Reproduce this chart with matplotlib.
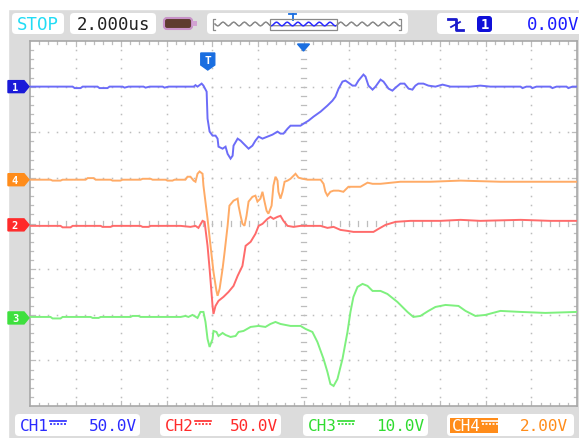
import numpy as np
import matplotlib
matplotlib.use("Agg")
import matplotlib.pyplot as plt
from matplotlib.patches import Rectangle, FancyBboxPatch, Polygon
from matplotlib.lines import Line2D
from matplotlib.transforms import Affine2D

# scope settings
time_per_div = 2.0          # us/div, t=0 at screen centre
ch_scale = {"CH1": 50.0, "CH2": 50.0, "CH3": 10.0, "CH4": 2.0}   # V/div
ch_offset = {"CH1": 7.0, "CH2": 3.97, "CH3": 1.93, "CH4": 4.96}  # ground marker, div
ch_scale_text = {"CH1": "50.0V", "CH2": "50.0V", "CH3": "10.0V", "CH4": "2.00V"}
timebase_text = "2.000us"
trig_level_text = "0.00V"
trig_time_us = -4.2

# CH1 (us, V)
ch1_t = [-11.97, -10.13, -10.04, -9.78, -9.69, -9.04, -8.95, -8.60, -8.51, -7.94,
         -7.85, -7.68, -7.02, -6.93, -6.75, -6.18, -6.10, -5.92, -4.82, -4.74,
         -4.65, -4.47, -4.39, -4.25, -4.21, -4.12, -3.99, -3.86, -3.77, -3.73,
         -3.55, -3.42, -3.33, -3.20, -3.11, -3.07, -2.89, -2.76, -2.63, -2.41,
         -2.24, -2.11, -1.97, -1.80, -1.58, -1.36, -1.14, -1.01, -0.88, -0.70,
         -0.57, -0.13, 0.0, 0.22, 0.44, 0.75, 1.05, 1.27, 1.40, 1.54,
         1.71, 1.84, 1.97, 2.15, 2.28, 2.41, 2.63, 2.72, 2.85, 3.03,
         3.16, 3.38, 3.51, 3.73, 3.90, 4.04, 4.25, 4.43, 4.61, 4.78,
         4.91, 5.04, 5.26, 5.48, 5.79, 6.10, 6.45, 7.32, 7.76, 8.20,
         9.52, 9.61, 9.78, 9.96, 10.04, 10.22, 10.83, 10.92, 11.10, 11.54,
         11.62, 11.80, 12.0]
ch1_v = [0, 0, -1.6, -1.6, 0, 0, -1.6, -1.6, 0, 0,
         -1.1, 0, 0, -1.1, 0, 0, -1.1, 0, 0, 1.6,
         0, 3.3, 1.1, -5.5, -35.1, -49.3, -53.7, -53.7, -57.0, -65.8,
         -68.0, -65.8, -73.7, -78.9, -75.7, -64.7, -57.0, -59.2, -62.5, -68.0,
         -64.7, -59.2, -54.8, -57.0, -54.8, -52.6, -49.3, -51.5, -51.5, -46.1,
         -42.8, -42.8, -40.6, -37.3, -32.9, -27.4, -20.8, -15.4, -11.0, -2.2,
         5.5, 6.6, 4.4, 1.1, 1.1, 6.6, 13.2, 11.0, 1.1, -3.3,
         0, 7.7, 5.5, -2.2, -4.4, -1.1, 3.3, 3.3, -2.2, -3.3,
         1.1, 3.3, 3.3, 1.1, 0, 2.2, 0, 0, 1.1, 0,
         0, -1.6, 0, 0, -1.6, 0, 0, -1.6, 0, 0,
         -1.6, 0, 0]

# CH2 (us, V)
ch2_t = [-11.97, -10.66, -10.57, -10.22, -10.13, -8.90, -8.82, -8.46, -8.38, -7.15,
         -7.06, -6.80, -6.71, -5.39, -4.96, -4.74, -4.61, -4.43, -4.34, -4.21,
         -4.12, -3.99, -3.95, -3.86, -3.73, -3.51, -3.29, -3.07, -2.89, -2.68,
         -2.54, -2.32, -2.11, -1.97, -1.80, -1.58, -1.45, -1.32, -1.14, -1.01,
         -0.88, -0.70, -0.44, -0.13, 0.75, 1.05, 1.32, 1.62, 1.93, 2.19,
         3.07, 3.29, 3.60, 4.04, 4.69, 6.01, 6.89, 7.76, 9.52, 10.83, 12.0]
ch2_v = [-1.1, -1.1, -2.7, -2.7, -1.1, -1.1, -2.2, -2.2, -1.1, -1.1,
         -2.2, -2.2, -1.1, -1.1, -2.2, -1.1, -3.3, 4.4, 3.3, -23.0,
         -48.2, -88.8, -97.6, -88.8, -83.3, -78.9, -73.5, -66.9, -55.9, -45.0,
         -23.0, -18.6, -9.9, -1.1, 1.1, 6.6, 8.8, 6.6, 8.8, 9.9,
         4.4, -1.1, -2.2, -1.1, -1.1, -3.3, -2.2, -5.5, -6.6, -7.7,
         -7.7, -4.4, 0, 3.3, 4.4, 4.4, 5.5, 4.4, 5.5, 4.4, 4.4]

# CH3 (us, V)
ch3_t = [-11.97, -11.10, -11.01, -10.66, -10.57, -9.34, -9.25, -8.99, -8.90, -7.59,
         -7.50, -7.24, -7.15, -5.39, -5.18, -5.05, -4.87, -4.65, -4.52, -4.39,
         -4.30, -4.21, -4.12, -3.99, -3.95, -3.82, -3.73, -3.55, -3.42, -3.20,
         -2.98, -2.85, -2.63, -2.32, -1.97, -1.67, -1.45, -1.23, -1.01, -0.57,
         -0.13, 0.09, 0.39, 0.61, 0.88, 1.05, 1.18, 1.32, 1.49, 1.71,
         1.93, 2.06, 2.19, 2.37, 2.59, 2.81, 3.03, 3.38, 3.68, 4.12,
         4.56, 4.82, 5.13, 5.48, 5.79, 6.23, 6.80, 7.11, 7.54, 7.98,
         8.64, 9.52, 10.61, 12.0]
ch3_v = [0.22, 0.22, -0.11, -0.11, 0.22, 0.22, 0, 0, 0.22, 0.22,
         0.44, 0.44, 0.22, 0.22, 0.44, 0.22, 0.66, 0, 1.32, 1.32,
         -0.88, -4.61, -6.36, -4.61, -2.85, -3.07, -3.95, -3.29, -3.73, -4.17,
         -3.95, -3.07, -2.85, -1.97, -1.75, -1.97, -1.32, -0.88, -1.32, -1.75,
         -1.75, -2.41, -3.07, -5.26, -8.99, -11.84, -14.47, -14.91, -13.38, -8.99,
         -3.07, 1.32, 4.61, 6.80, 7.46, 7.02, 5.92, 5.92, 5.26, 3.51,
         1.32, 0.22, 0.44, 1.54, 2.41, 2.85, 2.63, 1.54, 0.44, 0.66,
         1.54, 1.32, 1.10, 1.32]

# CH4 (us, V)
ch4_t = [-11.97, -11.10, -11.01, -10.66, -10.57, -9.56, -9.47, -9.21, -9.12, -8.46,
         -8.38, -8.03, -7.94, -7.15, -7.06, -6.71, -6.62, -6.05, -5.97, -5.75,
         -5.66, -5.18, -5.09, -4.96, -4.82, -4.74, -4.65, -4.56, -4.43, -4.39,
         -4.21, -4.08, -3.95, -3.82, -3.77, -3.68, -3.55, -3.46, -3.33, -3.25,
         -3.07, -2.89, -2.85, -2.76, -2.68, -2.59, -2.50, -2.41, -2.24, -2.11,
         -2.02, -1.89, -1.80, -1.71, -1.62, -1.54, -1.40, -1.32, -1.23, -1.14,
         -1.10, -1.01, -0.92, -0.83, -0.70, -0.57, -0.35, -0.22, -0.04, 0.18,
         0.75, 0.88, 0.96, 1.05, 1.18, 1.32, 1.54, 1.75, 1.97, 2.19,
         2.50, 2.81, 3.03, 3.38, 4.25, 5.57, 6.89, 8.64, 10.39, 12.0]
ch4_v = [0, 0, -0.04, -0.04, 0, 0, 0.07, 0.07, 0, 0,
         -0.04, -0.04, 0, 0, 0.04, 0.04, 0, 0, -0.04, -0.04,
         0, 0, 0.13, 0.13, -0.04, -0.09, 0.26, 0.36, 0.26, -0.26,
         -1.71, -2.89, -4.04, -4.87, -5.09, -4.78, -3.90, -3.16, -2.02, -1.14,
         -0.92, -0.83, -1.14, -1.58, -1.93, -2.02, -1.58, -0.96, -0.75, -0.70,
         -0.96, -0.83, -0.53, -0.96, -1.36, -1.49, -1.14, -0.26, 0.13, -0.04,
         -0.53, -0.83, -0.53, -0.09, -0.04, 0.04, 0.26, 0.09, 0.04, 0,
         0, -0.18, -0.53, -0.70, -0.53, -0.48, -0.48, -0.53, -0.31, -0.31,
         -0.31, -0.13, -0.18, -0.18, -0.09, -0.09, -0.04, -0.09, -0.09, -0.09]

traces = [
    ("CH4", ch4_t, ch4_v, "#ffab66"),
    ("CH3", ch3_t, ch3_v, "#7ef07e"),
    ("CH2", ch2_t, ch2_v, "#ff6b6b"),
    ("CH1", ch1_t, ch1_v, "#6c6cf8"),
]
tag_color = {"CH1": "#1a1ad8", "CH2": "#ff2a2a", "CH3": "#3ee03e", "CH4": "#ff8c1a"}
text_color = {"CH1": "#2a2aff", "CH2": "#ff2a2a", "CH3": "#2fdc2f", "CH4": "#ff8c1a"}

W, H = 579, 439
fig = plt.figure(figsize=(W / 100, H / 100), dpi=100)
fig.patch.set_facecolor("#dcdcdc")
# pixel coordinates, origin top-left
pxT = Affine2D().scale(1 / W, -1 / H).translate(0, 1) + fig.transFigure
mono = "DejaVu Sans Mono"

fig.patches.append(Rectangle((0, 0), W, 10, transform=pxT, color="white", zorder=0))
fig.patches.append(Rectangle((0, 0), 8, H, transform=pxT, color="white", zorder=0))

# screen
x0, y0, x1, y1 = 30, 42, 577, 407
ax = fig.add_axes([x0 / W, 1 - y1 / H, (x1 - x0) / W, (y1 - y0) / H])
ax.set_xlim(0, 12)
ax.set_ylim(0, 8)
ax.set_facecolor("white")
ax.set_xticks([])
ax.set_yticks([])
for s in ax.spines.values():
    s.set_color("#a8a8a8")
    s.set_linewidth(1.2)

grid_c = "#bdbdbd"
fine = np.arange(0.2, 12, 0.2)
fine_y = np.arange(0.2, 8, 0.2)
for i in range(1, 12):
    if i == 6:
        continue
    ax.plot(np.full(len(fine_y), i), fine_y, ls="none", marker="s", ms=1.1, color=grid_c, mew=0)
for j in range(1, 8):
    if j == 4:
        continue
    ax.plot(fine, np.full(len(fine), j), ls="none", marker="s", ms=1.1, color=grid_c, mew=0)
# centre axes with minor ticks
for yy in fine_y:
    ax.plot([5.94, 6.06], [yy, yy], color=grid_c, lw=0.9)
for xx in fine:
    ax.plot([xx, xx], [3.94, 4.06], color=grid_c, lw=0.9)
# ticks along the edges
for xx in fine:
    h = 0.1 if abs(xx - round(xx)) < 1e-6 else 0.06
    ax.plot([xx, xx], [0, h], color=grid_c, lw=0.9)
    ax.plot([xx, xx], [8, 8 - h], color=grid_c, lw=0.9)
for yy in fine_y:
    h = 0.1 if abs(yy - round(yy)) < 1e-6 else 0.06
    ax.plot([0, h], [yy, yy], color=grid_c, lw=0.9)
    ax.plot([12, 12 - h], [yy, yy], color=grid_c, lw=0.9)

for name, t, v, col in traces:
    xd = 6 + np.array(t) / time_per_div
    yd = ch_offset[name] + np.array(v) / ch_scale[name]
    ax.plot(xd, yd, color=col, lw=1.4, solid_joinstyle="miter", zorder=5)

# channel ground markers
for name in ["CH1", "CH4", "CH2", "CH3"]:
    yp = y1 - ch_offset[name] * (y1 - y0) / 8
    poly = Polygon([(8, yp - 6), (24, yp - 6), (29, yp), (24, yp + 6), (8, yp + 6)],
                   closed=True, transform=pxT, color=tag_color[name], zorder=6)
    fig.patches.append(poly)
    fig.text(15, yp + 0.5, name[-1], transform=pxT, color="white", fontsize=7.5,
             fontweight="bold", family=mono, ha="center", va="center", zorder=7)

# trigger position marker and centre arrow
tx = x0 + (6 + trig_time_us / time_per_div) * (x1 - x0) / 12
fig.patches.append(Polygon([(tx - 7, 54), (tx + 7, 54), (tx + 7, 66), (tx, 71), (tx - 7, 66)],
                           closed=True, transform=pxT, color="#1a6ee0", zorder=6))
fig.text(tx, 61, "T", transform=pxT, color="white", fontsize=8, fontweight="bold",
         family=mono, ha="center", va="center", zorder=7)
cx = x0 + 6 * (x1 - x0) / 12
fig.patches.append(Polygon([(cx - 6, 45), (cx + 6, 45), (cx, 52)], closed=True,
                           transform=pxT, color="#1a6ee0", zorder=6))


def box(xa, ya, xb, yb, fc="white", r=4):
    fig.patches.append(FancyBboxPatch((xa, ya), xb - xa, yb - ya,
                                      boxstyle=f"round,pad=0,rounding_size={r}",
                                      transform=pxT, fc=fc, ec="none", zorder=2))


def txt(x, y, s, col, size=12.5, ha="left", **kw):
    fig.text(x, y, s, transform=pxT, color=col, fontsize=size, family=mono,
             ha=ha, va="center", zorder=4, **kw)


def line(xs, ys, col, lw=1.2, **kw):
    fig.lines.append(Line2D(xs, ys, transform=pxT, color=col, lw=lw, zorder=4, **kw))


# top status bar
box(12, 14, 64, 35)
txt(38, 25, "STOP", "#22dcf5", ha="center")
box(70, 14, 156, 35)
txt(113, 25, timebase_text, "#222222", ha="center")
fig.patches.append(FancyBboxPatch((164, 19), 28, 11, boxstyle="round,pad=0,rounding_size=3",
                                  transform=pxT, fc="#5e3c2e", ec="#c892c8", lw=1.5, zorder=3))
fig.patches.append(Rectangle((192, 22), 5, 5, transform=pxT, fc="#d2a2d2", ec="none", zorder=3))

box(207, 14, 408, 35)
sx = np.linspace(215, 400, 400)
sy = 25 + 1.8 * np.sin((sx - 215) * 2 * np.pi / 10.7)
inside = (sx >= 271) & (sx <= 336)
line(sx[~inside], np.where(~inside, sy, np.nan)[~inside], "#8a8a8a", lw=0.9)
line(sx[sx < 271], sy[sx < 271], "#8a8a8a", lw=0.9)
line(sx[sx > 336], sy[sx > 336], "#8a8a8a", lw=0.9)
line(sx[inside], sy[inside], "#2a2aff", lw=1.1)
fig.patches.append(Rectangle((270, 20), 67, 11, transform=pxT, fill=False,
                             ec="#8a8a8a", lw=0.9, zorder=4))
line([215, 213, 213, 215], [20, 20, 31, 31], "#8a8a8a", lw=0.9)
line([399, 401, 401, 399], [20, 20, 31, 31], "#8a8a8a", lw=0.9)
line([289, 296], [15, 15], "#1a6ee0", lw=1.3)
line([292.5, 292.5], [15, 21], "#1a6ee0", lw=1.3)

box(437, 14, 600, 35)
line([448, 456, 456, 463], [20, 20, 31, 31], "#1a1acc", lw=2)
line([451, 460], [28, 23], "#1a1acc", lw=1.3)
box(477, 17, 492, 33, fc="#1010d8", r=3)
txt(484.5, 25, "1", "white", size=10, ha="center", fontweight="bold")
txt(527, 25, trig_level_text, "#1a1aff")

# bottom channel scale boxes
layout = {"CH1": (15, 140, 20, 137), "CH2": (160, 281, 165, 278),
          "CH3": (303, 428, 308, 424), "CH4": (447, 574, 452, 568)}
for name, (bx0, bx1, tx0, tx1) in layout.items():
    box(bx0, 415, bx1, 437)
    col = text_color[name]
    fg = col
    if name == "CH4":
        fig.patches.append(Rectangle((450, 419), 48, 15, transform=pxT, fc=col,
                                     ec="none", zorder=3))
        fg = "white"
    txt(tx0, 426.5, name, fg, size=11.5)
    line([tx0 + 30, tx0 + 46], [422, 422], fg, lw=1.2)
    line([tx0 + 30, tx0 + 46], [425.5, 425.5], fg, lw=1.2, ls=(0, (1.2, 0.9)))
    txt(tx1, 426.5, ch_scale_text[name], col, size=11.5, ha="right")

fig.savefig("out.png", dpi=100, facecolor=fig.get_facecolor())
